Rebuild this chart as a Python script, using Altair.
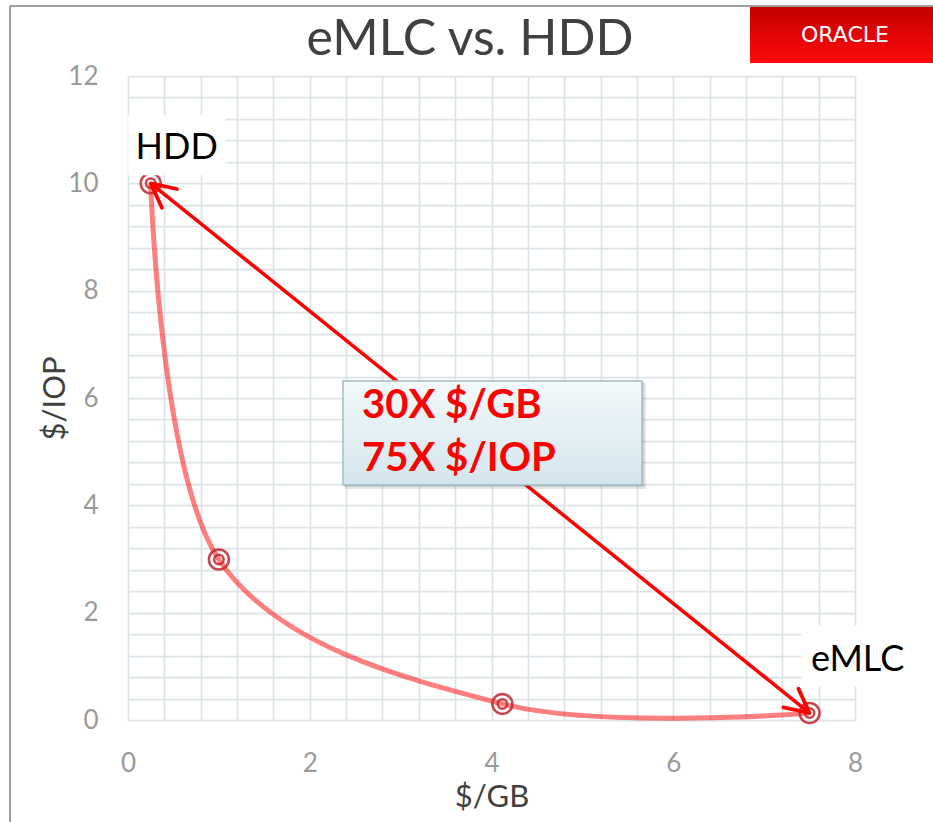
import math

import altair as alt
import pandas as pd

# Cost trade-off between hard disks and enterprise MLC flash
cost_per_gb = [0.25, 1.0, 4.12, 7.5]      # $/GB
cost_per_iop = [10.0, 2.99, 0.30, 0.13]   # $/IOP
endpoint_names = ["HDD", "eMLC"]          # first and last point

x_tick_labels = [0, 2, 4, 6, 8]
y_tick_labels = [0, 2, 4, 6, 8, 10, 12]
grid_step = 0.4
x_grid = [round(i * grid_step, 1) for i in range(21)]
y_grid = [round(i * grid_step, 1) for i in range(31)]

callout_lines = ["30X $/GB", "75X $/IOP"]
chart_title = "eMLC vs. HDD"
logo_text = "ORACLE"

# ---- layout -------------------------------------------------------------
W, H = 727, 644
PAD = {"left": 128, "top": 76, "right": 933 - 128 - W, "bottom": 822 - 76 - H}
X_MAX, Y_MAX = 8, 12
FONT = "Lato"
GRID = "#dde4e7"


def tick_expr(ticks):
    # only the whole-number ticks carry a label; the rest are grid lines
    return f"indexof({ticks}, datum.value) >= 0 ? format(datum.value, 'd') : ''"


points = pd.DataFrame({"gb": cost_per_gb, "iop": cost_per_iop})
one = pd.DataFrame({"k": [0]})

axis_style = dict(
    grid=True, gridColor=GRID, gridWidth=1.75,
    domain=False, ticks=False,
    labelFont=FONT, labelFontSize=26, labelColor="#9a9a9a", labelPadding=30,
    labelFlush=False, labelOverlap=False,
    titleFont=FONT, titleFontSize=31, titleFontWeight="normal",
    titleColor="#404040", titleBaseline="alphabetic",
)
xaxis = alt.Axis(values=x_grid, labelExpr=tick_expr(x_tick_labels),
                 title="$/GB", titleY=86, **axis_style)
yaxis = alt.Axis(values=y_grid, labelExpr=tick_expr(y_tick_labels),
                 title="$/IOP", titleX=-64, **axis_style)
xscale = alt.Scale(domain=[0, X_MAX], nice=False, zero=True)
yscale = alt.Scale(domain=[0, Y_MAX], nice=False, zero=True)
X = alt.X("gb:Q", scale=xscale, axis=xaxis)
Y = alt.Y("iop:Q", scale=yscale, axis=yaxis)

# ---- slide frame and logo ------------------------------------------------
frame_top = alt.Chart(one).mark_rule(color="#808080", strokeWidth=1.5).encode(
    x=alt.value(-118), x2=alt.value(W + PAD["right"]), y=alt.value(-70))
frame_left = alt.Chart(one).mark_rule(color="#808080", strokeWidth=1.5).encode(
    x=alt.value(-118), y=alt.value(-70), y2=alt.value(H + PAD["bottom"]))

logo_fill = alt.LinearGradient(
    gradient="linear", x1=0, y1=0, x2=0, y2=1,
    stops=[alt.GradientStop(offset=0, color="#c40000"),
           alt.GradientStop(offset=1, color="#ff0a0a")])
logo_box = alt.Chart(one).mark_rect(fill=logo_fill).encode(
    x=alt.value(622), x2=alt.value(W + PAD["right"]),
    y=alt.value(-69), y2=alt.value(-13))
logo = alt.Chart(one).mark_text(
    text=logo_text, font="DejaVu Sans", fontSize=22, color="white",
    align="center", baseline="middle").encode(x=alt.value(717), y=alt.value(-41))

title = alt.Chart(one).mark_text(
    text=chart_title, font=FONT, fontSize=50, color="#404040",
    align="center", baseline="alphabetic").encode(x=alt.value(342), y=alt.value(-21))

# ---- data: smoothed curve with ring markers -----------------------------
curve = alt.Chart(points).mark_line(
    interpolate="cardinal", tension=0, color="#ff0000",
    strokeOpacity=0.5, strokeWidth=5).encode(x=X, y=Y)
ring_outer = alt.Chart(points).mark_point(
    shape="circle", size=400, filled=False, color="#c0272d",
    strokeWidth=2.5, opacity=0.85).encode(x=X, y=Y)
ring_inner = alt.Chart(points).mark_point(
    shape="circle", size=90, filled=False, color="#c0272d",
    strokeWidth=2.5, opacity=0.85).encode(x=X, y=Y)

# ---- double-headed arrow between the two extremes -----------------------
x0, y0 = cost_per_gb[0], cost_per_iop[0]
x1, y1 = cost_per_gb[-1], cost_per_iop[-1]
dx_px = (x1 - x0) * W / X_MAX
dy_px = (y0 - y1) * H / Y_MAX
heading = math.degrees(math.atan2(dy_px, dx_px))  # clockwise from +x

arrow_df = pd.DataFrame({"gb": [x0], "iop": [y0], "gb_end": [x1], "iop_end": [y1]})
arrow = alt.Chart(arrow_df).mark_rule(color="#ff0000", strokeWidth=3.5).encode(
    x=X, y=Y, x2="gb_end:Q", y2="iop_end:Q")

heads_df = pd.DataFrame({"gb": [x0, x1], "iop": [y0, y1],
                         "angle": [heading + 180, heading]})
ARROW_HEAD = "M -1 -0.5 L 0 0 L -1 0.5"
heads = alt.Chart(heads_df).mark_point(
    shape=ARROW_HEAD, size=2300, filled=False, color="#ff0000",
    strokeWidth=3.75, opacity=1, strokeCap="round", strokeJoin="round").encode(
    x=X, y=Y, angle=alt.Angle("angle:Q", scale=None))

# ---- callout box ----------------------------------------------------------
BOX = dict(x=215, x2=514, y=305, y2=409)
shadow1 = alt.Chart(one).mark_rect(color="#000000", opacity=0.10).encode(
    x=alt.value(BOX["x"] + 2), x2=alt.value(BOX["x2"] + 4),
    y=alt.value(BOX["y"] + 2), y2=alt.value(BOX["y2"] + 4))
shadow2 = alt.Chart(one).mark_rect(color="#000000", opacity=0.10).encode(
    x=alt.value(BOX["x"] + 1), x2=alt.value(BOX["x2"] + 2),
    y=alt.value(BOX["y"] + 1), y2=alt.value(BOX["y2"] + 2))
box_fill = alt.LinearGradient(
    gradient="linear", x1=0, y1=0, x2=0, y2=1,
    stops=[alt.GradientStop(offset=0, color="#f3f9fb"),
           alt.GradientStop(offset=1, color="#d3e6ed")])
callout_box = alt.Chart(one).mark_rect(
    fill=box_fill, stroke="#a3bcc5", strokeWidth=1.5).encode(
    x=alt.value(BOX["x"]), x2=alt.value(BOX["x2"]),
    y=alt.value(BOX["y"]), y2=alt.value(BOX["y2"]))
callout_text = alt.Chart(one).mark_text(
    text=callout_lines, font=FONT, fontSize=40, fontWeight="bold",
    color="#ff0000", align="left", baseline="alphabetic", lineHeight=53).encode(
    x=alt.value(234), y=alt.value(342))

# ---- endpoint labels on white boxes ------------------------------------
label_specs = [
    # name, point index, box w, box h, box offset, text offset
    (endpoint_names[0], 0, 97, 60, (26, -38), (26, -24)),
    (endpoint_names[1], -1, 118, 61, (51, -57), (48, -42)),
]
label_layers = []
for name, idx, bw, bh, (bx, by), (tx, ty) in label_specs:
    row = pd.DataFrame({"gb": [cost_per_gb[idx]], "iop": [cost_per_iop[idx]],
                        "name": [name]})
    half = bh / bw
    rect_path = f"M -1 -{half:.3f} L 1 -{half:.3f} L 1 {half:.3f} L -1 {half:.3f} Z"
    label_layers.append(alt.Chart(row).mark_point(
        shape=rect_path, size=bw * bw, filled=True, color="white", opacity=1,
        strokeWidth=0, xOffset=bx, yOffset=by).encode(x=X, y=Y))
    label_layers.append(alt.Chart(row).mark_text(
        font=FONT, fontSize=36, color="#000000", align="center",
        baseline="alphabetic", dx=tx, dy=ty).encode(x=X, y=Y, text="name:N"))

chart = alt.layer(
    curve, ring_outer, ring_inner, arrow, heads,
    shadow1, shadow2, callout_box, callout_text,
    *label_layers,
    frame_top, frame_left, logo_box, logo, title,
).properties(
    width=W, height=H, padding=PAD,
    autosize=alt.AutoSizeParams(type="none"), background="white",
).configure_view(stroke=None)

chart.save("out.html", embed_options={"renderer": "svg", "actions": False})
